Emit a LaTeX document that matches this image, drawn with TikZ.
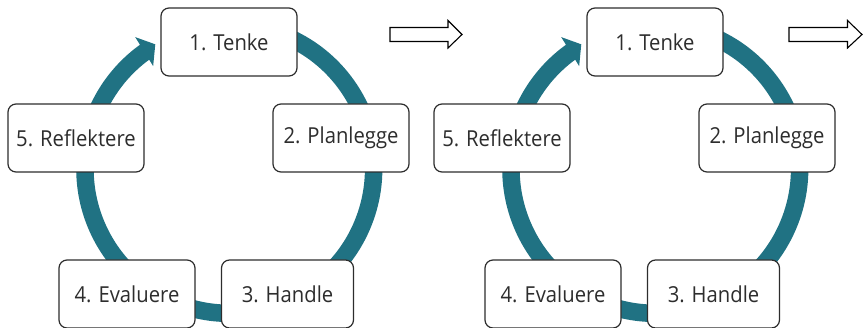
\documentclass[tikz,border=0pt]{standalone}
\usepackage{fontspec}
\setmainfont{Open Sans}[FakeStretch=0.92]
\usetikzlibrary{calc}
\definecolor{ringteal}{RGB}{32,114,131}
\definecolor{boxline}{RGB}{45,45,45}
\definecolor{txt}{RGB}{45,45,45}
\tikzset{
  stepbox/.style={draw=boxline, line width=1.2pt, fill=white, rounded corners=8pt,
    minimum width=136pt, minimum height=68pt, inner sep=0pt, text=txt,
    font=\fontsize{22}{26}\selectfont},
  ringband/.style={draw=ringteal, line width=17.5pt},
  openarrow/.style={draw=black, fill=white, line width=1.1pt, line join=miter}
}
\newcommand\drawmycycle[2]{%
  \begin{scope}[xshift=#2]
    \coordinate (#1c) at (229.3,158);
    \draw[ringband] ($(#1c)+(70:144.3)$) arc[start angle=70,end angle=-234.5,radius=144.3];
    \fill[ringteal] ($(#1c)+(125.5:162)$) -- ($(#1c)+(120.7:145)$) -- ($(#1c)+(126.5:128)$) -- cycle;
    \node[stepbox] (#1n1) at (229,285) {1. Tenke};
    \node[stepbox] (#1n2) at (341,189) {2. Planlegge};
    \node[stepbox, minimum width=132pt] (#1n3) at (287.5,33) {3. Handle};
    \node[stepbox] (#1n4) at (127,33) {4. Evaluere};
    \node[stepbox] (#1n5) at (76,189) {5. Reflektere};
  \end{scope}}
\begin{document}
\begin{tikzpicture}[x=1pt,y=1pt]
  \useasboundingbox (0,0) rectangle (863,327);
  \drawmycycle{a}{0}
  \drawmycycle{b}{426}
  \draw[openarrow] (390,285.5) -- (448,285.5) -- (448,279) -- (462,292.5) -- (448,306.5) -- (448,299.5) -- (390,299.5) -- cycle;
  \draw[openarrow] (789,285.5) -- (847.5,285.5) -- (847.5,279) -- (862,292.5) -- (847.5,306.5) -- (847.5,299.5) -- (789,299.5) -- cycle;
\end{tikzpicture}
\end{document}
